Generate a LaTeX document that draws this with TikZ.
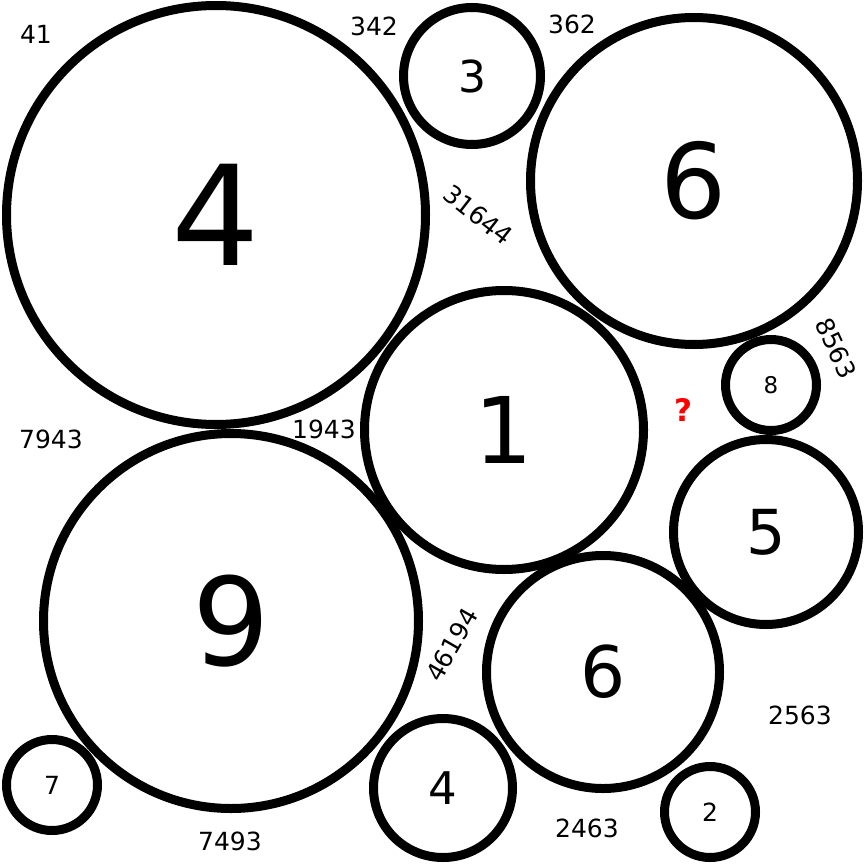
\documentclass[tikz,border=0pt]{standalone}
\usepackage{fontspec}
\setmainfont{DejaVu Sans}
\begin{document}
\begin{tikzpicture}[x=1pt, y=-1pt, line join=round, line cap=round,
	disc/.style={circle, draw, line width=9pt, inner sep=0pt},
	clue/.style={font=\fontsize{25}{26}\selectfont, inner sep=0pt}]
	\useasboundingbox (0,0) rectangle (864,864);
	% circles: name/x/y/radius/font size/digit
	\foreach \n/\x/\y/\r/\s/\t in {four/216/215/209.5/139/4, three/472/76/68.5/44/3,
		sixA/694/181/163.5/104/6, one/504/430/139.5/92/1, eight/771/385/45.5/23/8,
		five/766/532/92.5/62/5, nine/231/621/187.5/122/9, sixB/603/672/116.5/71/6,
		fourB/443/788/69.5/45/4, seven/52/785/45.5/25/7, two/710/812/45.5/25/2}
	\node[disc, minimum size=2*\r pt, font=\fontsize{\s}{\s}\selectfont] (\n) at (\x,\y) {\t};
	% clues between circles
	\node[clue] (c41) at (36,34) {41};
	\node[clue] (c342) at (374,26) {342};
	\node[clue] (c362) at (572,24) {362};
	\node[clue, rotate=-38] (c31644) at (478,215) {31644};
	\node[clue, rotate=-65] (c8563) at (836,348) {8563};
	\node[clue, red, font=\fontsize{31}{32}\selectfont\bfseries] (ask) at (683,410) {?};
	\node[clue] (c7943) at (51,439) {7943};
	\node[clue] (c1943) at (324,429) {1943};
	\node[clue, rotate=60] (c46194) at (452,645) {46194};
	\node[clue] (c2563) at (800,715) {2563};
	\node[clue] (c2463) at (587,828) {2463};
	\node[clue] (c7493) at (230,841) {7493};
\end{tikzpicture}
\end{document}
